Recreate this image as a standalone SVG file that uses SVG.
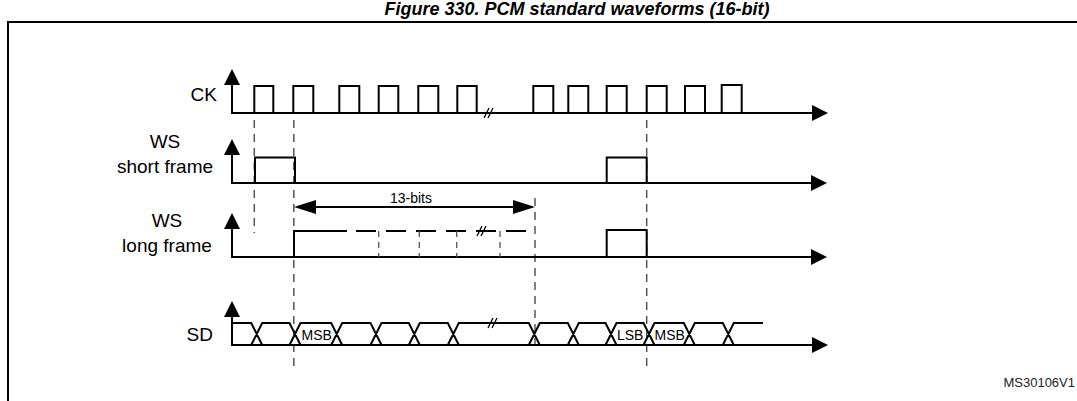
<svg xmlns="http://www.w3.org/2000/svg" width="1077" height="401" viewBox="0 0 1077 401">
<defs>
<style>
.ax{stroke:#000;stroke-width:2;fill:none}
.sig{stroke:#000;stroke-width:2;fill:none}
.brk{stroke:#000;stroke-width:1.3;fill:none}
.dash{stroke:#555;stroke-width:1.5;stroke-dasharray:8,6;fill:none}
.wdash{stroke:#000;stroke-width:2;stroke-dasharray:20,10;fill:none}
.bdash{stroke:#555;stroke-width:1.3;stroke-dasharray:6,5;fill:none}
.lbl{font-family:"Liberation Sans",Arial,sans-serif;font-size:19px;fill:#000}
.small{font-family:"Liberation Sans",Arial,sans-serif;font-size:14px;fill:#000}
.title{font-family:"Liberation Sans",Arial,sans-serif;font-size:18px;font-weight:bold;font-style:italic;fill:#000}
.ref{font-family:"Liberation Sans",Arial,sans-serif;font-size:13px;fill:#222}
</style>
<marker id="arr" viewBox="0 0 16 16" refX="0" refY="8" markerWidth="16" markerHeight="16" markerUnits="userSpaceOnUse" orient="auto"><path d="M0,0 L16,8 L0,16 z" fill="#000"/></marker>
<marker id="dim" viewBox="0 0 22 14" refX="0" refY="7" markerWidth="22" markerHeight="14" markerUnits="userSpaceOnUse" orient="auto-start-reverse"><path d="M0,0 L22,7 L0,14 z" fill="#000"/></marker>
</defs>
<rect width="1077" height="401" fill="#fff"/>
<text class="title" x="577" y="15" text-anchor="middle">Figure 330. PCM standard waveforms (16-bit)</text>
<path class="ax" d="M8,401 V22 H1077"/>

<g id="guides">
<line class="dash" x1="254.3" y1="120" x2="254.3" y2="233"/>
<line class="dash" x1="293.8" y1="120" x2="293.8" y2="370"/>
<line class="dash" x1="646.7" y1="120" x2="646.7" y2="367"/>
<line class="dash" x1="535" y1="198" x2="535" y2="345"/>
</g>

<g id="ck">
<text class="lbl" x="217" y="101" text-anchor="end">CK</text>
<line class="ax" x1="232" y1="113" x2="232" y2="85" marker-end="url(#arr)"/>
<line class="ax" x1="231" y1="113" x2="812" y2="113" marker-end="url(#arr)"/>
<path class="sig" d="M254.3,113 V86 H273.3 V113 M293.3,113 V86 H313.3 V113 M339.3,113 V86 H359.3 V113 M378.7,113 V86 H398.3 V113 M418.3,113 V86 H438.3 V113 M457.3,113 V86 H476.7 V113 M533.3,113 V86 H553.3 V113 M568.3,113 V86 H588.3 V113 M606.7,113 V86 H626.7 V113 M646.7,113 V86 H666.7 V113 M685,113 V86 H705 V113 M721.7,113 V85 H741.7 V113"/>
<path class="brk" d="M484,118 L489,108 M488,118 L493,108"/>
</g>

<g id="ws-short">
<text class="lbl" x="165" y="148" text-anchor="middle">WS</text>
<text class="lbl" x="165" y="173" text-anchor="middle">short frame</text>
<line class="ax" x1="232" y1="183" x2="232" y2="155" marker-end="url(#arr)"/>
<line class="ax" x1="231" y1="183" x2="811" y2="183" marker-end="url(#arr)"/>
<path class="sig" d="M255,183 V157.5 H295 V183 M606.7,183 V157.5 H646.7 V183"/>
</g>

<g id="ws-long">
<text class="lbl" x="167" y="227" text-anchor="middle">WS</text>
<text class="lbl" x="167" y="252" text-anchor="middle">long frame</text>
<line class="ax" x1="232" y1="257" x2="232" y2="229" marker-end="url(#arr)"/>
<line class="ax" x1="231" y1="257" x2="811" y2="257" marker-end="url(#arr)"/>
<path class="sig" d="M294,257 V231 H347 M606.7,257 V230 H646.7 V257"/>
<line class="wdash" x1="356" y1="231" x2="535" y2="231"/>
<path class="bdash" d="M378.7,231 V257 M419.3,231 V257 M456.7,231 V257 M500,231 V257"/>
<path class="brk" d="M477,236 L482,226 M481,236 L486,226"/>
</g>

<g id="dimension">
<line class="ax" x1="316" y1="207" x2="513" y2="207" stroke-width="1.5" marker-start="url(#dim)" marker-end="url(#dim)"/>
<text class="small" x="411" y="203" text-anchor="middle">13-bits</text>
</g>

<g id="sd">
<text class="lbl" x="213" y="341" text-anchor="end">SD</text>
<line class="ax" x1="232" y1="345" x2="232" y2="317" marker-end="url(#arr)"/>
<line class="ax" x1="231" y1="345" x2="812" y2="345" marker-end="url(#arr)"/>
<path class="sig" stroke-width="1.8" d="M232,323 H251.2 L262.2,345 M251.2,345 L262.2,323 H289.5 L300.5,345 M289.5,345 L300.5,323 H331.2 L342.2,345 M331.2,345 L342.2,323 H370.5 L381.5,345 M370.5,345 L381.5,323 H408.8 L419.8,345 M408.8,345 L419.8,323 H447.8 L458.8,345 M447.8,345 L458.8,323 H528.8 L539.8,345 M528.8,345 L539.8,323 H567.8 L578.8,345 M567.8,345 L578.8,323 H605.5 L616.5,345 M605.5,345 L616.5,323 H643.5 L654.5,345 M643.5,345 L654.5,323 H683.8 L694.8,345 M683.8,345 L694.8,323 H722.8 L733.8,345 M722.8,345 L733.8,323 H763"/>
<path class="brk" d="M488,328 L493,318 M492,328 L497,318"/>
<text class="small" x="301.5" y="340">MSB</text>
<text class="small" x="617" y="340">LSB</text>
<text class="small" x="654.5" y="340">MSB</text>
</g>

<text class="ref" x="1075" y="387" text-anchor="end">MS30106V1</text>
</svg>
